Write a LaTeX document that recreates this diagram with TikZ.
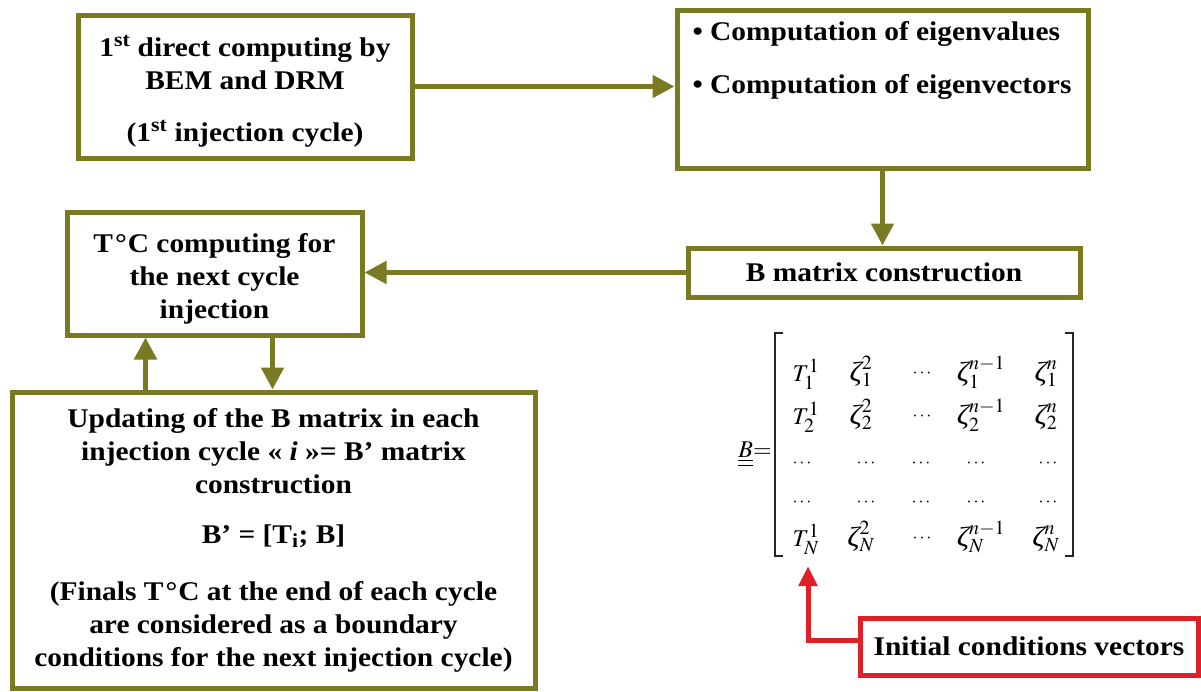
\documentclass[tikz,border=0pt]{standalone}
\usepackage{mathptmx}
\usepackage{amsmath}
\DeclareMathSizes{24}{24}{20}{14}
\usepackage{fontspec}
\setmainfont{Liberation Serif}[FakeStretch=1.09]
\usetikzlibrary{arrows.meta}
\definecolor{boxolive}{RGB}{122,122,34}
\definecolor{boxred}{RGB}{222,32,40}
\newcommand{\zt}{\mbox{\itshape\fontsize{28}{28}\selectfont ζ}}
\tikzset{
  box/.style={draw=boxolive, line width=5pt, inner sep=0pt, fill=white,
    font=\bfseries\fontsize{27}{33}\selectfont, align=center},
  arr/.style={draw=boxolive, line width=5pt, -{Triangle[length=22pt,width=22pt]}},
  redbox/.style={draw=boxred, line width=5pt, inner sep=0pt, fill=white,
    font=\bfseries\fontsize{27}{33}\selectfont, align=center},
  redarr/.style={draw=boxred, line width=5pt, -{Triangle[length=20pt,width=18pt]}},
  ent/.style={anchor=base, inner sep=0pt, font=\fontsize{24}{28}\selectfont},
  dot/.style={anchor=base, inner sep=0pt, font=\fontsize{18}{20}\selectfont},
  brk/.style={draw=black!85, line width=1.4pt},
}
\begin{document}
\begin{tikzpicture}[x=1pt,y=-1pt]
\useasboundingbox (0,0) rectangle (1201,691);
% boxes
\node[box, minimum width=334pt, minimum height=143pt] (b1) at (245,86.5)
  {\rule{0pt}{31pt}1\textsuperscript{st} direct computing by\\BEM and DRM\\[19pt](1\textsuperscript{st} injection cycle)};
\node[box, minimum width=411pt, minimum height=158pt] (b2) at (882.5,89)
  {\begin{minipage}[c][150pt][t]{380pt}\raggedright\vspace*{7pt}%
   • Computation of eigenvalues\\[20pt]• Computation of eigenvectors\end{minipage}};
\node[box, minimum width=392pt, minimum height=49pt] (b3) at (884,272.5) {B matrix construction};
\node[box, minimum width=295pt, minimum height=123pt] (b4) at (214.5,273.5)
  {\rule{0pt}{29pt}T\hspace{2pt}°\hspace{1pt}C computing for\\the next cycle\\injection};
\node[box, minimum width=523pt, minimum height=296pt] (b5) at (273.5,540)
  {Updating of the B matrix in each\\injection cycle « \textit{i} »= B’ matrix\\construction\\[17pt]
   B’ = [T\textsubscript{i}; B]\\[24pt]
   (Finals T\hspace{2pt}°\hspace{1pt}C at the end of each cycle\\are considered as a boundary\\conditions for the next injection cycle)};
\node[redbox, minimum width=338pt, minimum height=57pt] (rb) at (1029,646.5) {Initial conditions vectors};
% connectors
\draw[arr] (b1.east) -- (b1.east -| b2.west);
\draw[arr] (b2.south) -- (b2.south |- b3.north);
\draw[arr] (b3.west) -- (b3.west -| b4.east);
\coordinate (u1) at ([xshift=81pt]b4.south west);
\coordinate (d1) at ([xshift=208pt]b4.south west);
\draw[arr] (u1 |- b5.north) -- (u1);
\draw[arr] (d1) -- (d1 |- b5.north);
% matrix
\node[ent, anchor=base east] (Bl) at (772,457) {$\underline{\underline{B}}{=}$};
\draw[brk] (783,333) -- (775,333) -- (775,556) -- (783,556);
\draw[brk] (1065,333) -- (1073,333) -- (1073,556) -- (1065,556);
\node[ent] (m11) at (806,381) {$T_1^1$};
\node[ent] (m12) at (861,381) {$\zt_1^2$};
\node[dot] (m13) at (923,377) {$\cdots$};
\node[ent] (m14) at (981,381) {$\zt_1^{n-1}$};
\node[ent] (m15) at (1046,381) {$\zt_1^n$};
\node[ent] (m21) at (806,424) {$T_2^1$};
\node[ent] (m22) at (861,424) {$\zt_2^2$};
\node[dot] (m23) at (923,420) {$\cdots$};
\node[ent] (m24) at (981,424) {$\zt_2^{n-1}$};
\node[ent] (m25) at (1046,424) {$\zt_2^n$};
\node[dot] (m31) at (803,467) {$\cdots$};
\node[dot] (m32) at (867,467) {$\cdots$};
\node[dot] (m33) at (922,467) {$\cdots$};
\node[dot] (m34) at (977,467) {$\cdots$};
\node[dot] (m35) at (1049,467) {$\cdots$};
\node[dot] (m41) at (803,506) {$\cdots$};
\node[dot] (m42) at (867,506) {$\cdots$};
\node[dot] (m43) at (922,506) {$\cdots$};
\node[dot] (m44) at (977,506) {$\cdots$};
\node[dot] (m45) at (1049,506) {$\cdots$};
\node[ent] (m51) at (806,546) {$T_N^1$};
\node[ent] (m52) at (861,546) {$\zt_N^2$};
\node[dot] (m53) at (923,542) {$\cdots$};
\node[ent] (m54) at (981,546) {$\zt_N^{n-1}$};
\node[ent] (m55) at (1046,546) {$\zt_N^n$};
\coordinate (rtip) at (808,566);
\draw[redarr] ([yshift=6.5pt]rb.west) -| (rtip);
\end{tikzpicture}
\end{document}
